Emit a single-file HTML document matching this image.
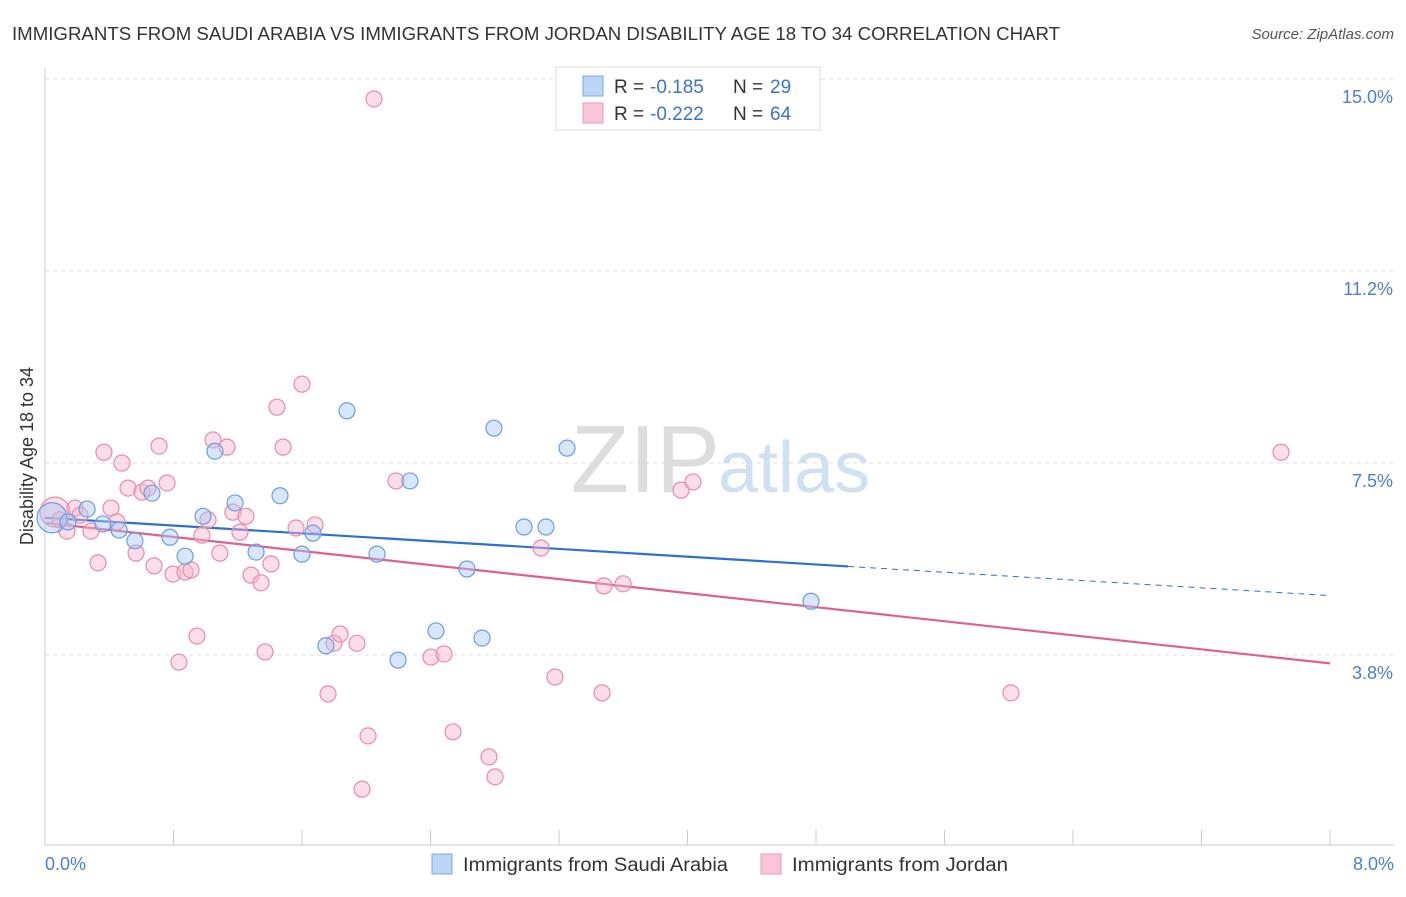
<!DOCTYPE html>
<html><head><meta charset="utf-8"><style>
body{margin:0;background:#fff;font-family:"Liberation Sans",sans-serif;}
svg text{font-family:"Liberation Sans",sans-serif;}
</style></head><body>
<svg id="chart" width="1406" height="892">
<text x="12" y="40" font-size="18" fill="#333" textLength="1048" lengthAdjust="spacingAndGlyphs">IMMIGRANTS FROM SAUDI ARABIA VS IMMIGRANTS FROM JORDAN DISABILITY AGE 18 TO 34 CORRELATION CHART</text>
<text x="1394" y="39" font-size="15" fill="#555" font-style="italic" text-anchor="end">Source: ZipAtlas.com</text>
<g id="grid"></g>
<text x="720" y="492" font-size="96" fill="#ddd" text-anchor="end" font-family="Liberation Serif">ZIP</text>
<text x="718" y="492" font-size="72" fill="#cfe0f3">atlas</text>
<line x1="45" y1="68" x2="45" y2="845" stroke="#ccc"/>
<line x1="45" y1="845" x2="1394" y2="845" stroke="#ccc"/>
<g id="xticks"></g>
<text x="45" y="870" font-size="18" fill="#4a7fd4">0.0%</text>
<text x="1394" y="870" font-size="18" fill="#4a7fd4" text-anchor="end">8.0%</text>
<text transform="translate(33,456) rotate(-90)" font-size="18" fill="#333" text-anchor="middle">Disability Age 18 to 34</text>
<g id="lines"></g>
<g id="points"></g>
<g>
<rect x="556" y="67" width="264" height="63" fill="#fff" stroke="#ddd"/>
<rect x="583" y="76" width="20" height="20" fill="#bcd5f5" stroke="#7aa8e8"/>
<rect x="583" y="103" width="20" height="20" fill="#f8c6d6" stroke="#ec9ab6"/>
<text x="614" y="93" font-size="19" fill="#333">R =</text>
<text x="650" y="93" font-size="19" fill="#3b73d0">-0.185</text>
<text x="733" y="93" font-size="19" fill="#333">N =</text>
<text x="770" y="93" font-size="19" fill="#3b73d0">29</text>
<text x="614" y="120" font-size="19" fill="#333">R =</text>
<text x="650" y="120" font-size="19" fill="#3b73d0">-0.222</text>
<text x="733" y="120" font-size="19" fill="#333">N =</text>
<text x="770" y="120" font-size="19" fill="#3b73d0">64</text>
</g>
<g>
<rect x="432" y="854" width="20" height="20" fill="#bcd5f5" stroke="#7aa8e8"/>
<text x="463" y="871" font-size="19" fill="#333" textLength="265" lengthAdjust="spacingAndGlyphs">Immigrants from Saudi Arabia</text>
<rect x="761" y="854" width="20" height="20" fill="#f8c6d6" stroke="#ec9ab6"/>
<text x="792" y="871" font-size="19" fill="#333" textLength="216" lengthAdjust="spacingAndGlyphs">Immigrants from Jordan</text>
</g>
</svg>
<script>
const yTicks=[15.0,11.25,7.5,3.75];
const yTickLabels=["15.0%","11.2%","7.5%","3.8%"];
const xMinorTicks=[0.8,1.6,2.4,3.2,4.0,4.8,5.6,6.4,7.2,8.0];
const saudiX=[0.044,0.143,0.262,0.361,0.461,0.56,0.666,0.778,0.872,0.984,1.058,1.183,1.314,1.463,1.600,1.668,1.749,1.880,2.067,2.198,2.272,2.434,2.627,2.721,2.795,2.982,3.119,3.250,4.769];
const saudiY=[6.43,6.35,6.60,6.31,6.19,5.98,6.91,6.05,5.68,6.46,7.73,6.72,5.76,6.86,5.72,6.13,3.93,8.52,5.72,3.65,7.15,4.22,5.43,4.08,8.18,6.25,6.25,7.79,4.80];
const jordanX=[0.062,0.093,0.137,0.187,0.218,0.286,0.330,0.367,0.411,0.448,0.479,0.517,0.567,0.604,0.641,0.679,0.710,0.760,0.797,0.834,0.872,0.909,0.946,0.977,1.015,1.046,1.089,1.133,1.170,1.214,1.251,1.283,1.345,1.370,1.407,1.444,1.482,1.563,1.600,1.681,1.762,1.799,1.837,1.942,2.011,1.974,2.048,2.185,2.403,2.484,2.540,2.764,2.802,3.088,3.175,3.468,3.480,3.599,3.960,4.034,6.014,7.695];
const jordanY=[6.54,6.39,6.17,6.62,6.48,6.17,5.55,7.71,6.62,6.35,7.50,7.01,5.74,6.93,7.01,5.49,7.83,7.11,5.33,3.61,5.37,5.41,4.12,6.09,6.39,7.95,5.74,7.81,6.54,6.15,6.46,5.31,5.16,3.81,5.53,8.59,7.81,6.23,9.04,6.29,2.99,3.98,4.16,3.98,2.17,1.13,14.61,7.15,3.71,3.77,2.25,1.76,1.37,5.84,3.32,3.01,5.10,5.14,6.97,7.13,3.01,7.71];
const saudiTrend=[6.43,-0.19];
const jordanTrend=[6.33,-0.343];
const NS="http://www.w3.org/2000/svg";
const X=v=>45+v*160.625, Y=v=>847-v*51.2;
function mk(tag,attrs,parent){const e=document.createElementNS(NS,tag);for(const k in attrs)e.setAttribute(k,attrs[k]);document.getElementById(parent).appendChild(e);return e;}
yTicks.forEach((t,i)=>{
 const l=mk('line',{x1:45,x2:1394,y1:Y(t),y2:Y(t),stroke:'#ddd','stroke-dasharray':'4,4'},'grid');
 
 
 const tx=mk('text',{x:1393,y:Y(t)+24,'font-size':18,fill:'#4a7fd4','text-anchor':'end'},'grid');
 tx.textContent=yTickLabels[i];
 
 
});
xMinorTicks.forEach(t=>{
 const l=mk('line',{x1:X(t),x2:X(t),y1:830,y2:845,stroke:'#ccc'},'xticks');
 
 
});
function line(tr,x0,x1,col,dash,name){
 const l=mk('line',{x1:X(x0),y1:Y(tr[0]+tr[1]*x0),x2:X(x1),y2:Y(tr[0]+tr[1]*x1),stroke:col,'stroke-width':dash?1:2.2},'lines');
 if(dash)l.setAttribute('stroke-dasharray','6,5');
 
 
}
line(jordanTrend,0,8,'#e0608c',false,'jordan-trend-line');
line(saudiTrend,0,5.0,'#2c6fd6',false,'saudi-trend-line');
line(saudiTrend,5.0,8,'#2c6fd6',true,'saudi-trend-extension');
function pts(xs,ys,fill,stroke,name){
 xs.forEach((x,i)=>{
  const big=i===0;
  const c=mk('circle',{cx:X(x),cy:Y(ys[i]),r:big?15:8,fill:fill,'fill-opacity':0.45,stroke:stroke,'stroke-width':1.2},'points');
  
  
 });
}
pts(jordanX,jordanY,'#f6b5ca','#e88aab','jordan-point');
pts(saudiX,saudiY,'#a9c8f2','#6b9de0','saudi-point');
</script>
</body></html>
